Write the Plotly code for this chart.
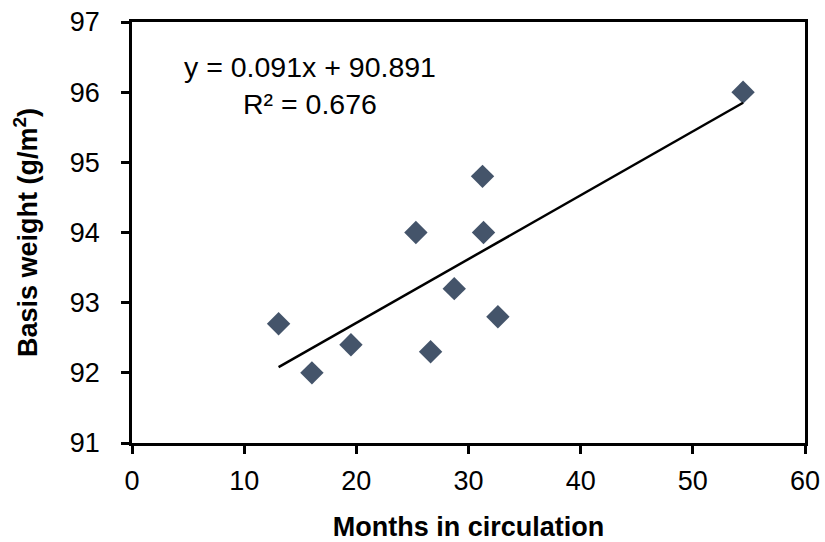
import plotly.graph_objects as go

# Months in circulation vs. basis weight of the sampled notes
months = [13.07, 16.04, 19.52, 25.31, 26.62, 28.73, 31.25, 31.34, 32.62, 54.48]
basis_weight = [92.7, 92.0, 92.4, 94.0, 92.3, 93.2, 94.8, 94.0, 92.8, 96.0]

# Linear trendline coefficients (as reported on the chart)
slope = 0.091
intercept = 90.891
r_squared = 0.676

x_ticks = [0, 10, 20, 30, 40, 50, 60]
y_ticks = [91, 92, 93, 94, 95, 96, 97]

FONT = "Arial, Liberation Sans, sans-serif"

trend_x = [min(months), max(months)]
trend_y = [slope * v + intercept for v in trend_x]

fig = go.Figure()
fig.add_trace(go.Scatter(
    x=months, y=basis_weight, mode="markers",
    marker=dict(symbol="diamond", size=18, color="#44546A", line=dict(width=0)),
    showlegend=False,
))
fig.add_trace(go.Scatter(
    x=trend_x, y=trend_y, mode="lines",
    line=dict(color="black", width=2.5),
    showlegend=False,
))

fig.add_annotation(
    x=15.85, y=96.1, xref="x", yref="y",
    text=f"y = {slope:.3f}x + {intercept:.3f}<br>R² = {r_squared:.3f}",
    showarrow=False, align="center",
    font=dict(family=FONT, size=28.5, color="black"),
)

axis_common = dict(
    showgrid=False, zeroline=False, automargin=False,
    showline=True, linecolor="black", linewidth=2.5, mirror=True,
    ticks="outside", ticklen=8, tickwidth=2.5, tickcolor="black",
    tickfont=dict(family=FONT, size=27, color="black"),
)

fig.update_xaxes(
    range=[0, 60], tickvals=x_ticks,
    title=dict(text="<b>Months in circulation</b>", standoff=25,
               font=dict(family=FONT, size=27, color="black")),
    ticklabelstandoff=4,
    **axis_common,
)
fig.update_yaxes(
    range=[91, 97], tickvals=y_ticks,
    title=dict(text="<b>Basis weight (g/m<sup>2</sup>)</b>", standoff=25,
               font=dict(family=FONT, size=27, color="black")),
    ticklabelstandoff=16,
    **axis_common,
)

fig.update_layout(
    width=825, height=542,
    margin=dict(l=132, r=20, t=22, b=99),
    paper_bgcolor="white", plot_bgcolor="white",
    font=dict(family=FONT, color="black"),
)

fig.write_html("out.html")
